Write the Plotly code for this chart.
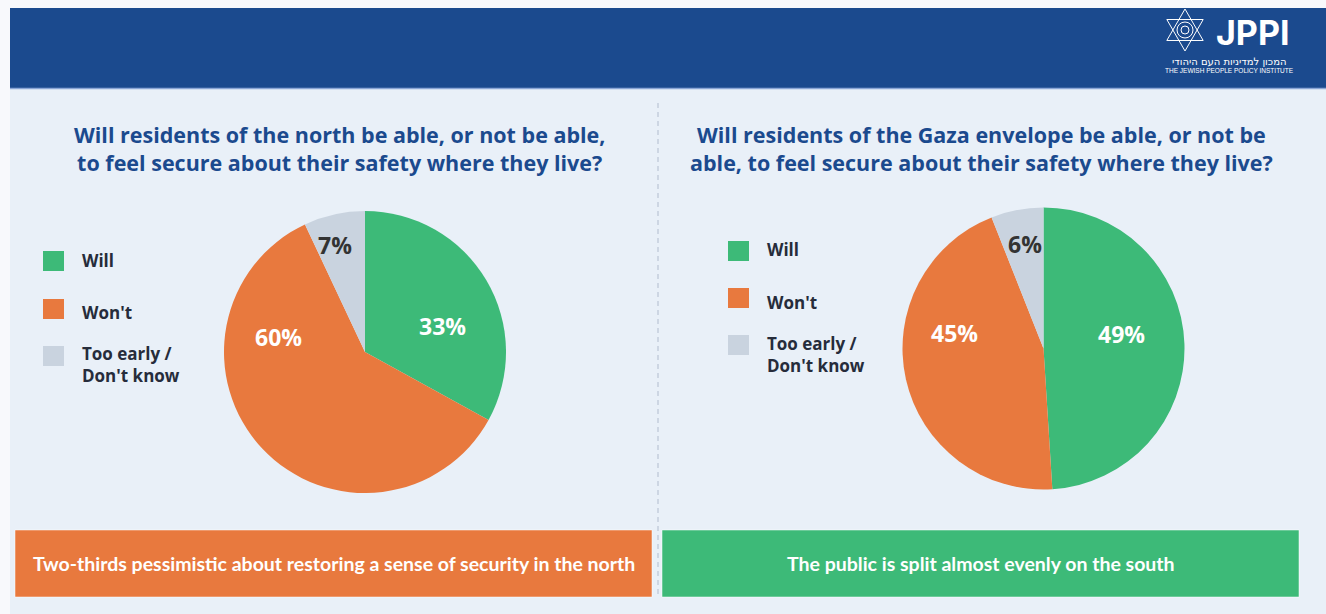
import plotly.graph_objects as go

W, H = 1326, 614

# ---- data ----
categories = ["Will", "Won't", "Too early /<br>Don't know"]
north_values = [33, 60, 7]
south_values = [49, 45, 6]
north_title = "Will residents of the north be able, or not be able,<br>to feel secure about their safety where they live?"
south_title = "Will residents of the Gaza envelope be able, or not be<br>able, to feel secure about their safety where they live?"
north_note = "Two-thirds pessimistic about restoring a sense of security in the north"
south_note = "The public is split almost evenly on the south"

# ---- styling ----
GREEN, ORANGE, GREY = "#3dba78", "#e8793e", "#c9d3df"
slice_colors = [GREEN, ORANGE, GREY]
text_colors = ["white", "white", "#333333"]
NAVY = "#1b4a8e"
BODY_BG = "#e9f0f8"
PAGE_BG = "#f8f9fc"
PIE_R = 141

# pie centres and percentage-label offsets (pixels from the pie centre)
pies = [
    dict(values=north_values, center=(365, 352),
         label_offsets=[(77, -26), (-87, -15), (-30, -107)]),
    dict(values=south_values, center=(1043.5, 348.5),
         label_offsets=[(78, -15), (-89, -16), (-19, -105)]),
]


def px(x):
    return x / W


def py(y):
    return 1 - y / H


def pie_domain(cx, cy, r):
    return dict(x=[px(cx - r), px(cx + r)], y=[py(cy + r), py(cy - r)])


fig = go.Figure()
shapes = []
annotations = []

for pie in pies:
    cx, cy = pie["center"]
    fig.add_trace(go.Pie(
        labels=categories,
        values=pie["values"],
        sort=False,
        direction="clockwise",
        rotation=0,
        marker=dict(colors=slice_colors, line=dict(width=0)),
        textinfo="none",
        hoverinfo="label+value",
        showlegend=False,
        domain=pie_domain(cx, cy, PIE_R),
    ))
    # percentage labels
    for v, (dx, dy), tc in zip(pie["values"], pie["label_offsets"], text_colors):
        annotations.append(dict(text=f"<b>{v}%</b>", x=px(cx + dx), y=py(cy + dy),
                                xref="paper", yref="paper", showarrow=False,
                                xanchor="center", yanchor="middle",
                                font=dict(family="Open Sans", size=23, color=tc, weight=800)))

# page backgrounds and header band
shapes.append(dict(type="rect", xref="paper", yref="paper", x0=px(10), x1=px(W), y0=py(H), y1=py(89),
                   fillcolor=BODY_BG, line=dict(width=0), layer="below"))
shapes.append(dict(type="rect", xref="paper", yref="paper", x0=px(10), x1=px(W), y0=py(89), y1=py(8),
                   fillcolor=NAVY, line=dict(width=0), layer="below"))
shapes.append(dict(type="line", xref="paper", yref="paper", x0=px(10), x1=px(W), y0=py(88.5), y1=py(88.5),
                   line=dict(color="#8ba6d6", width=1.5), layer="below"))

# dashed divider between the two panels
shapes.append(dict(type="line", xref="paper", yref="paper", x0=px(658), x1=px(658), y0=py(103), y1=py(597),
                   line=dict(color="#c3cddb", width=1.5, dash="5px,4px"), layer="below"))

# logo: star of David outline
cxs, cys, rs = 1185, 30, 21
tri1 = [(cxs, cys - rs), (cxs + rs * 0.866, cys + rs * 0.5), (cxs - rs * 0.866, cys + rs * 0.5)]
tri2 = [(cxs, cys + rs), (cxs + rs * 0.866, cys - rs * 0.5), (cxs - rs * 0.866, cys - rs * 0.5)]
for tri in (tri1, tri2):
    path = "M " + " L ".join(f"{px(x):.5f},{py(y):.5f}" for x, y in tri) + " Z"
    shapes.append(dict(type="path", xref="paper", yref="paper", path=path,
                       line=dict(color="white", width=1), fillcolor="rgba(0,0,0,0)"))
shapes.append(dict(type="circle", xref="paper", yref="paper", x0=px(cxs - 8), x1=px(cxs + 8),
                   y0=py(cys + 8), y1=py(cys - 8), line=dict(color="white", width=1)))
shapes.append(dict(type="circle", xref="paper", yref="paper", x0=px(cxs - 4), x1=px(cxs + 4),
                   y0=py(cys + 4), y1=py(cys - 4), line=dict(color="white", width=1)))

annotations.append(dict(text="<b>JPPI</b>", x=px(1252), y=py(32), xref="paper", yref="paper",
                        showarrow=False, xanchor="center", yanchor="middle",
                        font=dict(family="Inter", size=34, color="white", weight=800)))
annotations.append(dict(text="המכון למדיניות העם היהודי", x=px(1229), y=py(61), xref="paper", yref="paper",
                        showarrow=False, xanchor="center", yanchor="middle",
                        font=dict(family="DejaVu Sans", size=10, color="white")))
annotations.append(dict(text="THE JEWISH PEOPLE POLICY INSTITUTE", x=px(1229), y=py(70.5), xref="paper", yref="paper",
                        showarrow=False, xanchor="center", yanchor="middle",
                        font=dict(family="Liberation Sans", size=6.5, color="white")))

# panel titles
for text, cx in [(north_title, 340), (south_title, 981)]:
    annotations.append(dict(text=f"<b>{text}</b>", x=px(cx), y=py(148), xref="paper", yref="paper",
                            showarrow=False, xanchor="center", yanchor="middle", align="center",
                            font=dict(family="Open Sans", size=21.5, color=NAVY)))

# legends
legend_rows = {
    "north": dict(x=43, rows=[(261, 260), (309, 312), (356, 364)]),
    "south": dict(x=728, rows=[(251, 250), (298, 302), (345, 354)]),
}
for spec in legend_rows.values():
    for (sq_y, txt_y), name, color in zip(spec["rows"], categories, slice_colors):
        shapes.append(dict(type="rect", xref="paper", yref="paper",
                           x0=px(spec["x"]), x1=px(spec["x"] + 21), y0=py(sq_y + 10), y1=py(sq_y - 10),
                           fillcolor=color, line=dict(width=0)))
        annotations.append(dict(text=f"<b>{name}</b>", x=px(spec["x"] + 37), y=py(txt_y),
                                xref="paper", yref="paper", showarrow=False,
                                xanchor="left", yanchor="middle", align="left",
                                font=dict(family="Open Sans", size=17, color="#262c3b")))

# bottom note boxes
for (x0, x1), color, note in [((15, 652), ORANGE, north_note), ((662, 1299), GREEN, south_note)]:
    shapes.append(dict(type="rect", xref="paper", yref="paper", x0=px(x0), x1=px(x1),
                       y0=py(597), y1=py(530), fillcolor=color,
                       line=dict(color="rgba(255,255,255,0.5)", width=1)))
    annotations.append(dict(text=f"<b>{note}</b>", x=px((x0 + x1) / 2), y=py(563.5),
                            xref="paper", yref="paper", showarrow=False,
                            xanchor="center", yanchor="middle",
                            font=dict(family="Lato", size=19.5, color="white")))

fig.update_layout(
    width=W, height=H, autosize=False,
    margin=dict(l=0, r=0, t=0, b=0),
    paper_bgcolor=PAGE_BG,
    plot_bgcolor=PAGE_BG,
    shapes=shapes,
    annotations=annotations,
)

fig.write_html("out.html")
